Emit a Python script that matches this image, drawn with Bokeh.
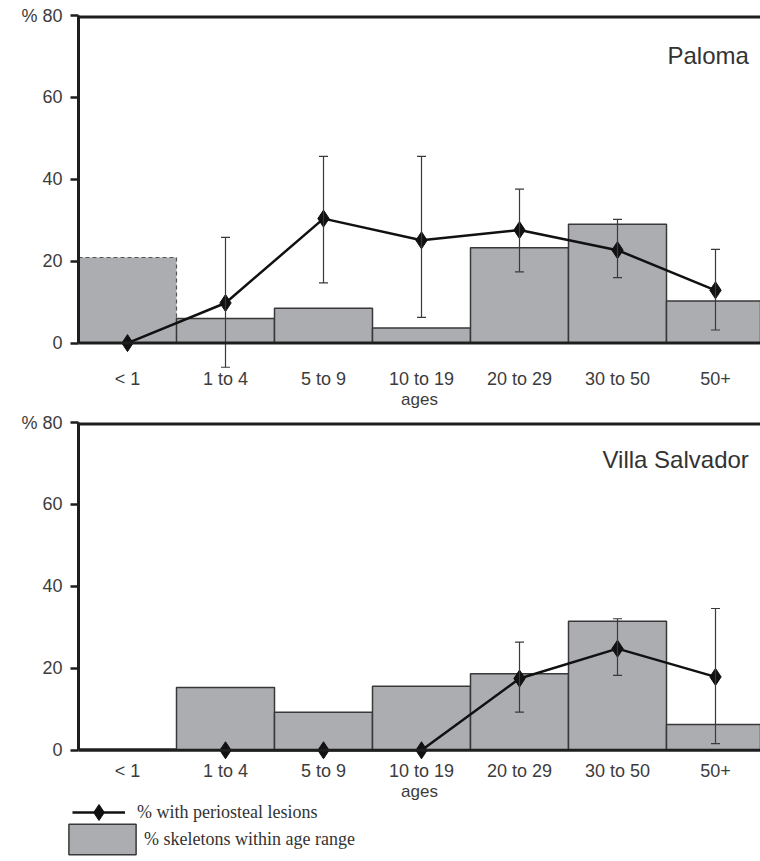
import math
import numpy as np
from bokeh.plotting import figure
from bokeh.models import (Range1d, Span, Whisker, TeeHead, ColumnDataSource,
                          Legend, LegendItem, Label, FixedTicker)
from bokeh.layouts import column
from bokeh.embed import file_html
from bokeh.resources import INLINE

nan = float("nan")

# ---------------- data ----------------
age_groups = ["< 1", "1 to 4", "5 to 9", "10 to 19", "20 to 29", "30 to 50", "50+"]

paloma_skeletons = [20.9, 6.0, 8.5, 3.7, 23.3, 29.0, 10.3]
paloma_lesions = [0.0, 9.8, 30.4, 25.1, 27.6, 22.7, 12.9]
paloma_lesions_upper = [nan, 25.8, 45.6, 45.6, 37.6, 30.2, 22.9]
paloma_lesions_lower = [nan, -5.9, 14.7, 6.3, 17.4, 16.0, 3.2]

villa_skeletons = [0.3, 15.3, 9.3, 15.6, 18.7, 31.5, 6.3]
villa_lesions = [nan, 0.0, 0.0, 0.0, 17.5, 24.8, 17.9]
villa_lesions_upper = [nan, nan, nan, nan, 26.4, 32.1, 34.6]
villa_lesions_lower = [nan, nan, nan, nan, 9.3, 18.3, 1.6]

y_ticks = [0, 20, 40, 60, 80]
y_tick_labels = {80: "% 80"}

legend_labels = ["% with periosteal lesions", "% skeletons within age range"]

# ---------------- style ----------------
SANS = "Liberation Sans"
SERIF = "Liberation Serif"
BAR_FILL = "#acadb1"
BAR_LINE = "#383838"
AXIS_COLOR = "#1e1e1e"
TEXT_COLOR = "#3c3c3c"
ERR_COLOR = "#3a3a3a"
LINE_COLOR = "#111111"

x_pos = list(range(len(age_groups)))
PX_PER_BAR = 98
FRAME_W = 682

bar_kw = dict(width=1, fill_color=BAR_FILL, line_color=BAR_LINE, line_width=1.5)
line_kw = dict(line_color=LINE_COLOR, line_width=2.5)
marker_kw = dict(marker="diamond", size=17, fill_color=LINE_COLOR, line_color=LINE_COLOR)


def make_panel(name, skeletons, lesions, upper, lower, y_start, frame_h,
               border_top, border_bottom, dashed_first, title_y):
    p = figure(frame_width=FRAME_W, frame_height=frame_h,
               x_range=Range1d(-0.5, -0.5 + FRAME_W / PX_PER_BAR),
               y_range=Range1d(y_start, y_ticks[-1]),
               min_border_left=78, min_border_right=0,
               min_border_top=border_top, min_border_bottom=border_bottom,
               output_backend="svg", toolbar_location=None,
               outline_line_color=None, background_fill_color="white",
               border_fill_color="white")
    p.grid.visible = False

    ya = p.yaxis[0]
    ya.ticker = FixedTicker(ticks=y_ticks, minor_ticks=[])
    ya.bounds = (y_ticks[0], y_ticks[-1])
    ya.axis_line_width = 3
    ya.axis_line_color = AXIS_COLOR
    ya.major_tick_out = 8
    ya.major_tick_in = 0
    ya.major_tick_line_width = 2.5
    ya.major_tick_line_color = AXIS_COLOR
    ya.minor_tick_line_color = None
    ya.major_label_overrides = y_tick_labels
    ya.major_label_text_font = SANS
    ya.major_label_text_font_size = "18px"
    ya.major_label_text_color = TEXT_COLOR
    ya.major_label_standoff = 8

    xa = p.xaxis[0]
    xa.ticker = FixedTicker(ticks=x_pos, minor_ticks=[])
    xa.major_label_overrides = {i: lab for i, lab in zip(x_pos, age_groups)}
    xa.axis_line_color = None
    xa.major_tick_line_color = None
    xa.major_tick_out = 0
    xa.major_tick_in = 0
    xa.minor_tick_line_color = None
    xa.major_label_standoff = 0
    xa.major_label_text_font = SANS
    xa.major_label_text_font_size = "18px"
    xa.major_label_text_color = TEXT_COLOR
    xa.axis_label = "ages"
    xa.axis_label_text_font = SANS
    xa.axis_label_text_font_style = "normal"
    xa.axis_label_text_font_size = "17px"
    xa.axis_label_text_color = TEXT_COLOR
    xa.axis_label_standoff = -2

    if dashed_first:
        p.vbar(x=x_pos[:1], top=skeletons[:1], width=1, fill_color=BAR_FILL,
               line_color="#555555", line_width=1.2, line_dash="4 3")
        p.vbar(x=x_pos[1:], top=skeletons[1:], **bar_kw)
    else:
        p.vbar(x=x_pos, top=skeletons, **bar_kw)

    idx = [i for i in x_pos if not math.isnan(upper[i])]
    wsrc = ColumnDataSource(dict(base=[x_pos[i] for i in idx],
                                 upper=[upper[i] for i in idx],
                                 lower=[lower[i] for i in idx]))
    w = Whisker(base="base", upper="upper", lower="lower", source=wsrc,
                dimension="height", line_color=ERR_COLOR, line_width=1.2,
                upper_head=TeeHead(size=9, line_color=ERR_COLOR, line_width=1.2),
                lower_head=TeeHead(size=9, line_color=ERR_COLOR, line_width=1.2),
                level="glyph")
    p.add_layout(w)

    les = np.array(lesions, dtype=float)
    p.line(x=x_pos, y=les, **line_kw)
    p.scatter(x=x_pos, y=les, **marker_kw)

    p.add_layout(Span(location=0, dimension="width", line_color=AXIS_COLOR, line_width=3))
    p.add_layout(Span(location=y_ticks[-1], dimension="width", line_color=AXIS_COLOR, line_width=6))

    p.add_layout(Label(x=6.34, y=title_y, text=name, text_align="right",
                       text_baseline="middle", text_font=SANS,
                       text_font_size="24px", text_color="#333333"))
    return p


p1 = make_panel("Paloma", paloma_skeletons, paloma_lesions,
                paloma_lesions_upper, paloma_lesions_lower,
                y_start=-6.2, frame_h=353, border_top=15, border_bottom=30,
                dashed_first=True, title_y=70.2)

p2 = make_panel("Villa Salvador", villa_skeletons, villa_lesions,
                villa_lesions_upper, villa_lesions_lower,
                y_start=-2.5, frame_h=338, border_top=11, border_bottom=30,
                dashed_first=False, title_y=71.0)

# ---------------- legend strip ----------------
# The legend's sample renderers carry the Villa Salvador series, squeezed into
# a small region of the strip that the opaque second legend box covers.
p3 = figure(width=760, height=55, x_range=Range1d(-10.5, 27.5),
            y_range=Range1d(-3.9, 67.4),
            x_axis_type=None, y_axis_type=None,
            min_border_left=0, min_border_right=0, min_border_top=0, min_border_bottom=0,
            output_backend="svg", toolbar_location=None, outline_line_color=None,
            background_fill_color="white", border_fill_color="white")
p3.frame_align = False
p3.grid.visible = False
v_les = np.array(villa_lesions, dtype=float)
bars3 = p3.vbar(x=x_pos, top=villa_skeletons, **bar_kw)
ln3 = p3.line(x=x_pos, y=v_les, **line_kw)
sc3 = p3.scatter(x=x_pos, y=v_les, **marker_kw)

leg_common = dict(padding=0, margin=0, spacing=0,
                  label_text_font=SERIF, label_text_font_size="18px",
                  label_text_color="#333333", border_line_color=None)
leg2 = Legend(items=[LegendItem(label=legend_labels[1], renderers=[bars3])],
              location=(60, 0), glyph_width=84, glyph_height=38,
              label_standoff=0, background_fill_color="white",
              background_fill_alpha=1.0, **leg_common)
leg1 = Legend(items=[LegendItem(label=legend_labels[0], renderers=[ln3, sc3])],
              location=(72, 26), glyph_width=53, glyph_height=40,
              label_standoff=12, background_fill_alpha=0, **leg_common)
p3.add_layout(leg2, "center")
p3.add_layout(leg1, "center")

layout = column(p1, p2, p3)
open("out.html", "w").write(file_html(layout, INLINE))
